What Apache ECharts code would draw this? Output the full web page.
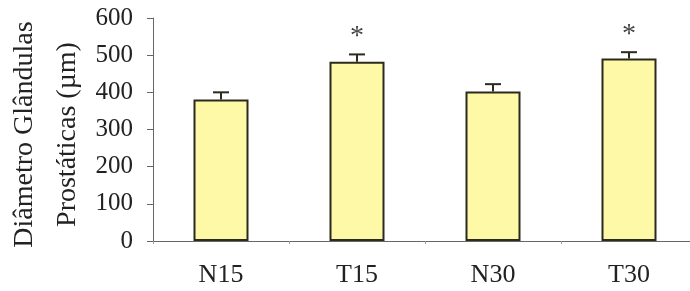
<!DOCTYPE html>
<html>
<head>
<meta charset="utf-8">
<script src="https://cdn.jsdelivr.net/npm/echarts@6/dist/echarts.min.js"></script>
<style>
  html, body { margin: 0; padding: 0; background: #fff; }
  #main { width: 690px; height: 291px; }
</style>
</head>
<body>
<div id="main"></div>
<script>
var categories = ['N15', 'T15', 'N30', 'T30'];
var means = [381, 482, 402, 491];
var errors = [19, 20, 20, 17];
var significant = [false, true, false, true];
var yTicks = [0, 100, 200, 300, 400, 500, 600];

var myChart = echarts.init(document.getElementById('main'));

var serif = '"Liberation Serif", "DejaVu Serif", serif';

var option = {
    animation: false,
    grid: { left: 153, top: 18, width: 544, height: 223, outerBoundsMode: 'none', containLabel: false },
    xAxis: {
        type: 'category',
        data: categories,
        axisLine: { lineStyle: { color: '#666', width: 1 } },
        axisTick: { show: true, length: 3, lineStyle: { color: '#999' } },
        axisLabel: { color: '#222', fontFamily: serif, fontSize: 26, margin: 21 }
    },
    yAxis: {
        type: 'value',
        min: yTicks[0],
        max: yTicks[yTicks.length - 1],
        interval: 100,
        name: 'Diâmetro Glândulas\nProstáticas (µm)',
        nameLocation: 'middle',
        nameRotate: 90,
        nameGap: 64,
        nameMoveOverlap: false,
        nameTextStyle: { color: '#222', fontFamily: serif, fontSize: 28, lineHeight: 43, padding: [0, 10, 0, 0] },
        axisLine: { show: true, lineStyle: { color: '#666', width: 1 } },
        axisTick: { show: true, length: 6, lineStyle: { color: '#666' } },
        splitLine: { show: false },
        axisLabel: { color: '#222', fontFamily: serif, fontSize: 25, margin: 20 }
    },
    series: [
        {
            type: 'bar',
            data: means,
            barWidth: 55,
            itemStyle: { color: '#fdf9a6', borderColor: '#2b2a1c', borderWidth: 2 }
        },
        {
            type: 'custom',
            data: means.map(function (m, i) { return [i, m, m + errors[i], significant[i] ? 1 : 0]; }),
            renderItem: function (params, api) {
                var i = api.value(0);
                var base = api.coord([i, api.value(1)]);
                var top = api.coord([i, api.value(2)]);
                var half = 8;
                var children = [
                    { type: 'line', shape: { x1: base[0], y1: base[1], x2: top[0], y2: top[1] },
                      style: { stroke: '#2b2a1c', lineWidth: 2 } },
                    { type: 'line', shape: { x1: top[0] - half, y1: top[1], x2: top[0] + half, y2: top[1] },
                      style: { stroke: '#2b2a1c', lineWidth: 2 } }
                ];
                if (api.value(3)) {
                    children.push({
                        type: 'text',
                        style: {
                            text: '*', x: top[0], y: top[1] - 18,
                            align: 'center', verticalAlign: 'middle',
                            font: '28px ' + serif, fill: '#444'
                        }
                    });
                }
                return { type: 'group', children: children };
            },
            z: 5
        }
    ]
};
myChart.setOption(option);
</script>
</body>
</html>
